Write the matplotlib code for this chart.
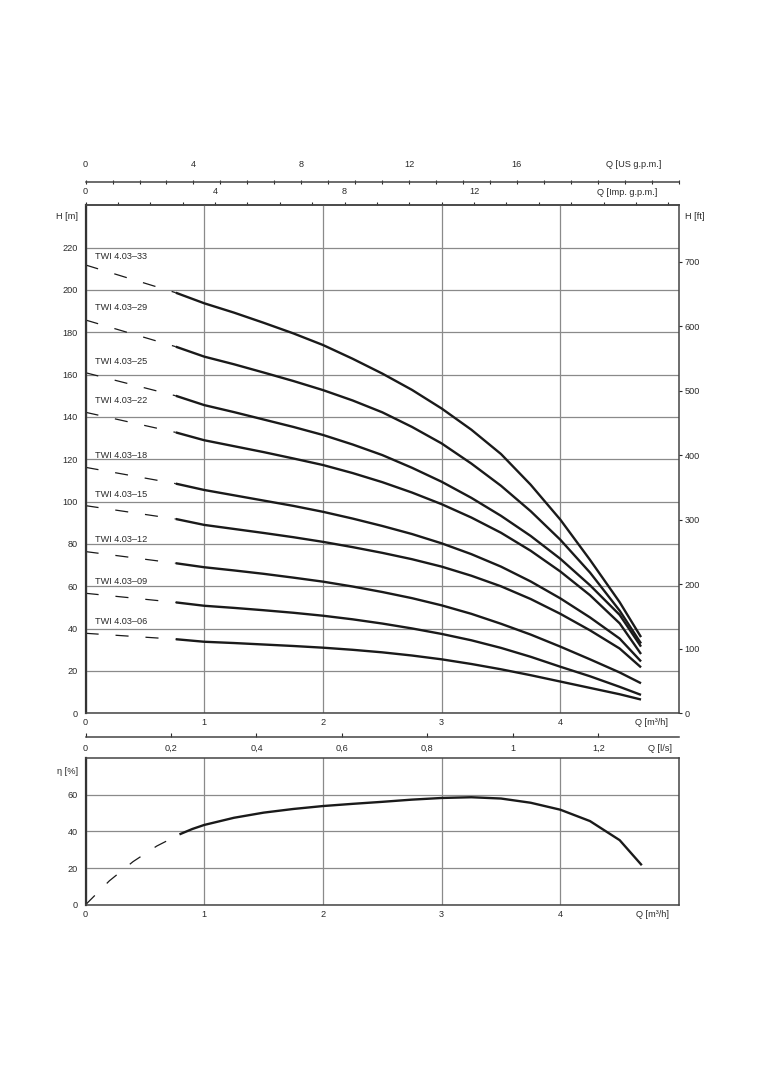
import matplotlib
matplotlib.use("Agg")
from matplotlib import pyplot as plt
from matplotlib.ticker import FixedLocator, FuncFormatter

plt.rcParams['font.family'] = ['Liberation Sans', 'DejaVu Sans']
plt.rcParams['font.size'] = 6.6
plt.rcParams['lines.scale_dashes'] = False

TXT = '#2a2a2a'
INK = '#1a1a1a'
GRID = '#8a8a8a'

# unit conversions (to m3/h)
M3H_PER_USGPM = 0.22712
M3H_PER_IMPGPM = 0.27277
M3H_PER_LS = 3.6
FT_PER_M = 3.28084

# pump curves: Q [m3/h] and H [m]
pumps = ["TWI 4.03–33", "TWI 4.03–29", "TWI 4.03–25", "TWI 4.03–22", "TWI 4.03–18",
         "TWI 4.03–15", "TWI 4.03–12", "TWI 4.03–09", "TWI 4.03–06"]
q_curve = [0.76, 1.0, 1.25, 1.5, 1.75, 2.0, 2.25, 2.5, 2.75, 3.0, 3.25, 3.5, 3.75, 4.0, 4.25, 4.5, 4.68]
h_33 = [198.7, 193.7, 189.3, 184.5, 179.5, 174.0, 167.5, 160.5, 152.8, 144.0, 134.0, 122.5, 108.0, 91.5, 72.5, 52.5, 36.0]
h_29 = [173.2, 168.5, 164.9, 161.0, 157.0, 152.7, 147.8, 142.2, 135.3, 127.5, 118.0, 107.5, 95.5, 82.0, 66.5, 48.5, 33.0]
h_25 = [150.0, 145.6, 142.3, 138.8, 135.3, 131.5, 127.0, 122.0, 116.0, 109.4, 101.8, 93.3, 83.8, 73.0, 60.5, 46.5, 31.5]
h_22 = [132.7, 129.0, 126.2, 123.4, 120.4, 117.3, 113.5, 109.2, 104.3, 98.8, 92.5, 85.3, 76.8, 67.0, 55.8, 42.5, 28.0]
h_18 = [108.5, 105.5, 103.0, 100.5, 98.0, 95.2, 92.0, 88.5, 84.7, 80.3, 75.2, 69.3, 62.3, 54.3, 45.3, 35.3, 24.5]
h_15 = [91.8, 89.0, 87.1, 85.2, 83.2, 81.0, 78.5, 75.8, 72.8, 69.3, 65.0, 60.0, 54.0, 47.0, 39.2, 30.6, 21.7]
h_12 = [70.9, 69.0, 67.5, 65.9, 64.1, 62.2, 59.9, 57.3, 54.4, 51.0, 47.0, 42.3, 37.2, 31.5, 25.5, 19.3, 14.2]
h_09 = [52.4, 50.8, 49.8, 48.7, 47.5, 46.1, 44.4, 42.4, 40.1, 37.5, 34.5, 30.9, 26.7, 22.0, 17.5, 12.5, 8.7]
h_06 = [35.0, 33.8, 33.2, 32.5, 31.8, 31.0, 30.0, 28.8, 27.3, 25.5, 23.3, 20.8, 18.0, 15.0, 12.0, 9.0, 6.5]
h_curves = [h_33, h_29, h_25, h_22, h_18, h_15, h_12, h_09, h_06]
h_at_zero = [211.8, 185.8, 160.9, 142.2, 116.2, 98.1, 76.4, 56.7, 37.8]
label_h = [215.7, 191.6, 166.4, 147.9, 121.7, 103.5, 81.9, 62.5, 43.3]

# efficiency
q_eta = [0.8, 0.9, 1.0, 1.25, 1.5, 1.75, 2.0, 2.25, 2.5, 2.75, 3.0, 3.25, 3.5, 3.75, 4.0, 4.25, 4.5, 4.68]
eta = [38.6, 41.3, 43.5, 47.4, 50.2, 52.2, 53.8, 55.0, 56.1, 57.3, 58.2, 58.6, 57.9, 55.6, 51.8, 45.6, 35.2, 22.0]
q_eta_dash = [0.0, 0.2, 0.4, 0.6, 0.8]
eta_dash = [0.0, 13.0, 23.5, 32.0, 38.6]

DASH = (0, (9.4, 12.2))

fig = plt.figure(figsize=(7.63, 10.8), dpi=100)
L, W = 85.6 / 763, 593.4 / 763
ax = fig.add_axes([L, 1 - 713.3 / 1080, W, 508 / 1080])
ax2 = fig.add_axes([L, 1 - 904.7 / 1080, W, 146.7 / 1080])


def style_frame(a):
    for s in ['top', 'right', 'bottom']:
        a.spines[s].set_color('#444444')
        a.spines[s].set_linewidth(1.1)
    a.spines['left'].set_color('#333333')
    a.spines['left'].set_linewidth(1.6)
    a.grid(True, color=GRID, lw=0.9)
    a.set_axisbelow(True)
    a.tick_params(length=0, colors=TXT, labelsize=6.6)
    a.tick_params(axis='y', pad=5.5)
    a.tick_params(axis='x', pad=3.6)


# ---- head chart ----
ax.set_xlim(0, 5)
ax.set_ylim(0, 240)
ax.set_xticks([0, 1, 2, 3, 4])
ax.set_yticks(range(0, 221, 20))
style_frame(ax)

for name, hq, h0, hl in zip(pumps, h_curves, h_at_zero, label_h):
    ax.plot(q_curve, hq, color=INK, lw=1.7, solid_capstyle='butt', solid_joinstyle='round')
    ax.plot([0, q_curve[0]], [h0, hq[0]], color=INK, lw=0.9, linestyle=DASH)
    ax.text(0.08, hl, name, color=TXT, fontsize=6.6, va='center', ha='left')

ax.annotate('H [m]', xy=(0, 234.5), xycoords='data', xytext=(-5.5, 0),
            textcoords='offset points', ha='right', va='center', color=TXT)
ax.annotate('Q [m³/h]', xy=(4.77, 0), xycoords=('data', 'axes fraction'), xytext=(0, -3.6),
            textcoords='offset points', ha='center', va='top', color=TXT)

# right axis in ft
axr = ax.twinx()
axr.set_ylim(0, 240 * FT_PER_M)
axr.set_yticks(range(0, 701, 100))
axr.tick_params(axis='y', length=2.5, width=0.8, pad=1.5, colors=TXT, labelsize=6.6)
for s in axr.spines.values():
    s.set_visible(False)
axr.annotate('H [ft]', xy=(1, 234.5 / 240), xycoords='axes fraction', xytext=(4.5, 0),
             textcoords='offset points', ha='left', va='center', color=TXT)

# Imp. gpm on top spine
imp = ax.secondary_xaxis('top', functions=(lambda q: q / M3H_PER_IMPGPM, lambda g: g * M3H_PER_IMPGPM))
imp.xaxis.set_major_locator(FixedLocator([0, 4, 8, 12]))
imp.xaxis.set_minor_locator(FixedLocator(range(0, 19)))
imp.tick_params(which='both', direction='out', length=2.5, width=0.8, colors=TXT, pad=4.0, labelsize=6.6)
imp.spines['top'].set_linewidth(1.1)
imp.spines['top'].set_color('#444444')
ax.annotate('Q [Imp. g.p.m.]', xy=(4.565, 1), xycoords=('data', 'axes fraction'), xytext=(0, 6.3),
            textcoords='offset points', ha='center', va='bottom', color=TXT)

# US gpm scale line above
us_pos = 1 + 23.3 / 508
us = ax.secondary_xaxis(us_pos, functions=(lambda q: q / M3H_PER_USGPM, lambda g: g * M3H_PER_USGPM))
us.xaxis.set_major_locator(FixedLocator([0, 4, 8, 12, 16]))
us.xaxis.set_minor_locator(FixedLocator(range(0, 23)))
us.tick_params(which='both', direction='inout', length=3, width=0.8, colors=TXT, pad=8.0, labelsize=6.6)
us.spines['top'].set_linewidth(1.1)
us.spines['top'].set_color('#444444')
ax.annotate('Q [US g.p.m.]', xy=(4.616, us_pos), xycoords=('data', 'axes fraction'), xytext=(0, 9.0),
            textcoords='offset points', ha='center', va='bottom', color=TXT)

# l/s scale line below
ls_pos = -(737 - 713.3) / 508
ls = ax.secondary_xaxis(ls_pos, functions=(lambda q: q / M3H_PER_LS, lambda l: l * M3H_PER_LS))
ls.xaxis.set_major_locator(FixedLocator([0, 0.2, 0.4, 0.6, 0.8, 1.0, 1.2]))
ls.xaxis.set_major_formatter(FuncFormatter(lambda v, p: ('%g' % round(v, 1)).replace('.', ',')))
ls.tick_params(which='both', direction='in', length=3, width=0.8, colors=TXT, pad=5.0, labelsize=6.6)
ls.spines['bottom'].set_linewidth(1.1)
ls.spines['bottom'].set_color('#444444')
ax.annotate('Q [l/s]', xy=(4.84, ls_pos), xycoords=('data', 'axes fraction'), xytext=(0, -5.0),
            textcoords='offset points', ha='center', va='top', color=TXT)

# ---- efficiency chart ----
ax2.set_xlim(0, 5)
ax2.set_ylim(0, 80)
ax2.set_xticks([0, 1, 2, 3, 4])
ax2.set_yticks([0, 20, 40, 60])
style_frame(ax2)
ax2.plot(q_eta, eta, color=INK, lw=1.7, solid_joinstyle='round')
ax2.plot(q_eta_dash, eta_dash, color=INK, lw=0.9, linestyle=DASH)
ax2.annotate('η [%]', xy=(0, 72.9), xycoords='data', xytext=(-5.5, 0),
             textcoords='offset points', ha='right', va='center', color=TXT)
ax2.annotate('Q [m³/h]', xy=(4.78, 0), xycoords=('data', 'axes fraction'), xytext=(0, -3.6),
             textcoords='offset points', ha='center', va='top', color=TXT)

fig.savefig('out.png', dpi=100)
